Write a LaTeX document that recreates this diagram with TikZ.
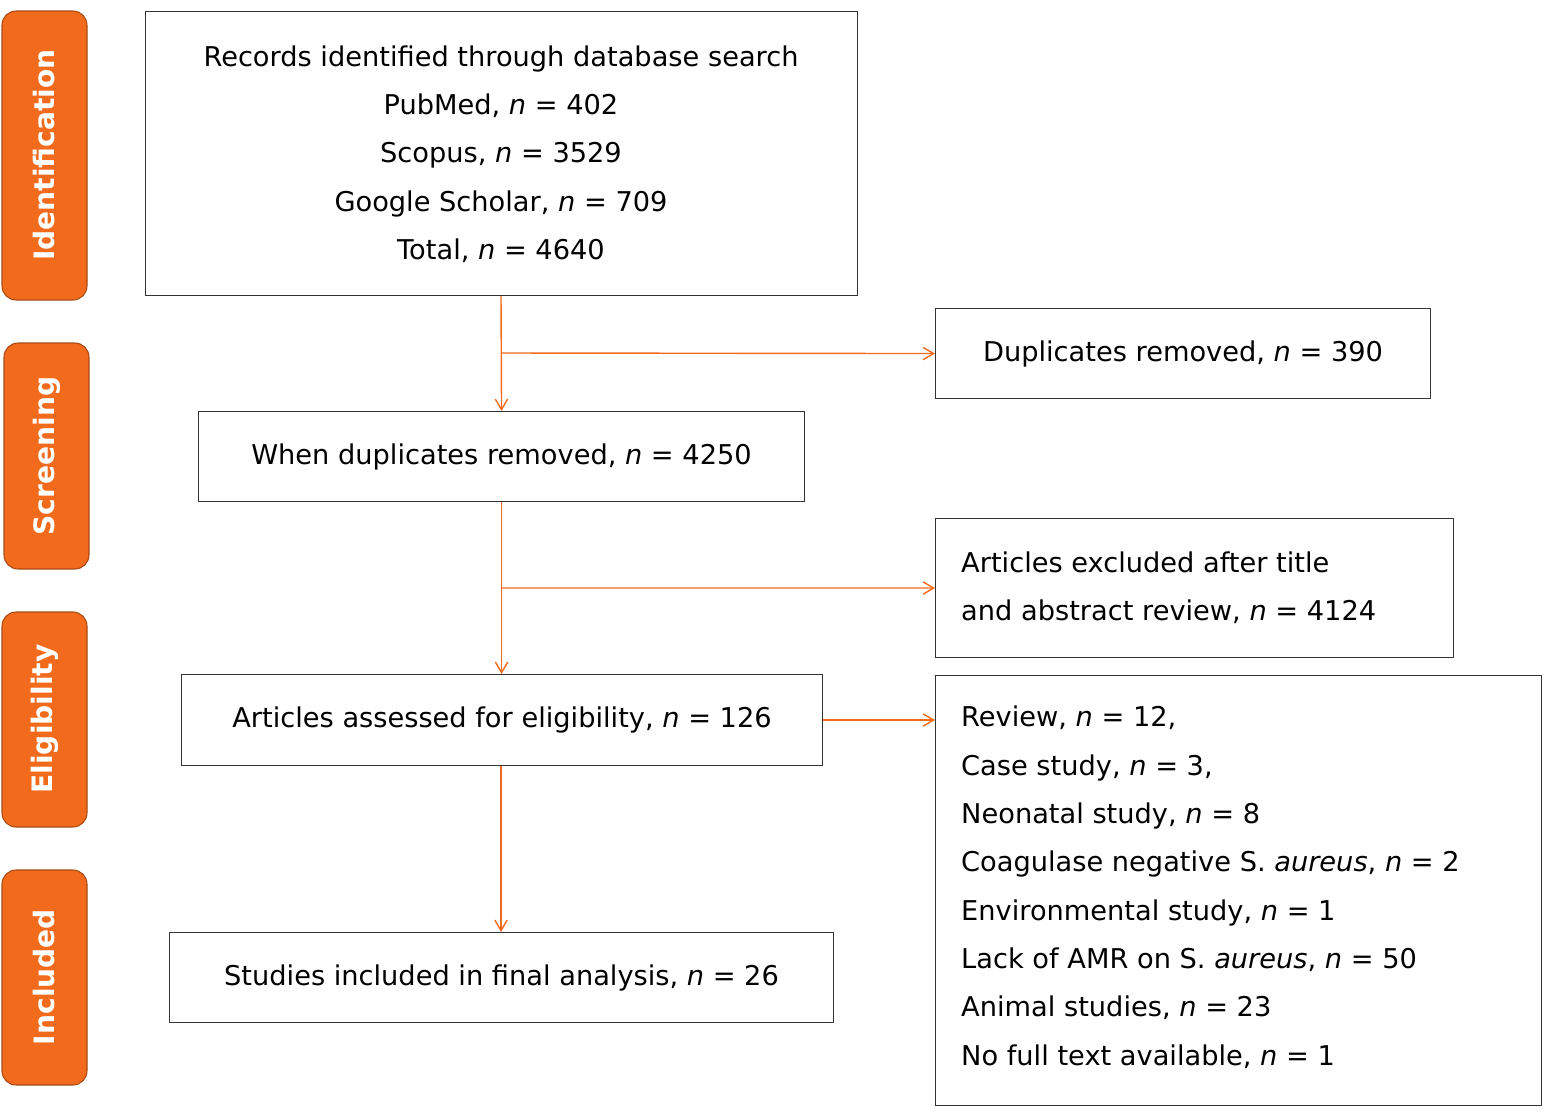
\documentclass[tikz,border=0pt]{standalone}
\usepackage{fontspec}
\setmainfont{DejaVu Sans}
\usetikzlibrary{arrows.meta}
\definecolor{org}{HTML}{F26B1D}
\begin{document}
\begin{tikzpicture}[x=0.02cm,y=-0.02cm,
  box/.style={draw=black!80,line width=0.6pt,anchor=north west,inner sep=0pt},
  txt/.style={font=\fontsize{15.5}{27.5}\selectfont},
  tab/.style={fill=org,draw=org!70!black,rounded corners=8pt,line width=0.6pt},
  tabt/.style={text=white,font=\bfseries\fontsize{16}{19}\selectfont,rotate=90},
  arr/.style={draw=org,line width=0.8pt,-{Straight Barb[length=6pt,width=7pt]}},
  ln/.style={draw=org,line width=0.8pt}]
\useasboundingbox (0,0) rectangle (1551,1113);
\newcommand{\nn}{\textit{n}}
% tabs
\draw[tab] (2,11) rectangle (87,300); \node[tabt] (t1) at (44.5,155) {Identification};
\draw[tab] (4,343) rectangle (89,569); \node[tabt] (t2) at (46.5,456) {Screening};
\draw[tab] (2,612) rectangle (87,827); \node[tabt] (t3) at (44.5,719) {Eligibility};
\draw[tab] (2,870) rectangle (87,1085); \node[tabt] (t4) at (44.5,977) {Included};
% boxes
\node[box,minimum width=712*0.02cm,minimum height=284*0.02cm] (A) at (145,11) {};
\node[txt,align=center] (At) at (501,154) {Records identified through database search\\PubMed, \nn{} = 402\\Scopus, \nn{} = 3529\\Google Scholar, \nn{} = 709\\Total, \nn{} = 4640};
\node[box,minimum width=495*0.02cm,minimum height=90*0.02cm] (B) at (935,308) {};
\node[txt] at (B.center) {Duplicates removed, \nn{} = 390};
\node[box,minimum width=606*0.02cm,minimum height=90*0.02cm] (C) at (198,411) {};
\node[txt] at (C.center) {When duplicates removed, \nn{} = 4250};
\node[box,minimum width=518*0.02cm,minimum height=139*0.02cm] (D) at (935,518) {};
\node[txt,align=left,anchor=west] at (955,588) {Articles excluded after title\\and abstract review, \nn{} = 4124};
\node[box,minimum width=641*0.02cm,minimum height=91*0.02cm] (E) at (181,674) {};
\node[txt] at (E.center) {Articles assessed for eligibility, \nn{} = 126};
\node[box,minimum width=606*0.02cm,minimum height=430*0.02cm] (F) at (935,675) {};
\node[txt,align=left,anchor=north west] at (955,700) {Review, \nn{} = 12,\\Case study, \nn{} = 3,\\Neonatal study, \nn{} = 8\\Coagulase negative S. \textit{aureus}, \nn{} = 2\\Environmental study, \nn{} = 1\\Lack of AMR on S. \textit{aureus}, \nn{} = 50\\Animal studies, \nn{} = 23\\No full text available, \nn{} = 1};
\node[box,minimum width=664*0.02cm,minimum height=90*0.02cm] (G) at (169,932) {};
\node[txt] at (G.center) {Studies included in final analysis, \nn{} = 26};
% connectors
\coordinate (j1) at (501,353); \coordinate (j2) at (501,588);
\draw[arr] (A.south -| j1) -- (C.north);
\draw[arr] (j1) -- (B.west);
\draw[arr] (C.south) -- (E.north -| C.south);
\draw[arr] (j2) -- (D.west);
\draw[arr] (E.east |- 0,720) -- (F.west |- 0,720);
\draw[arr] (E.south -| j1) -- (G.north -| j1);
\end{tikzpicture}
\end{document}
